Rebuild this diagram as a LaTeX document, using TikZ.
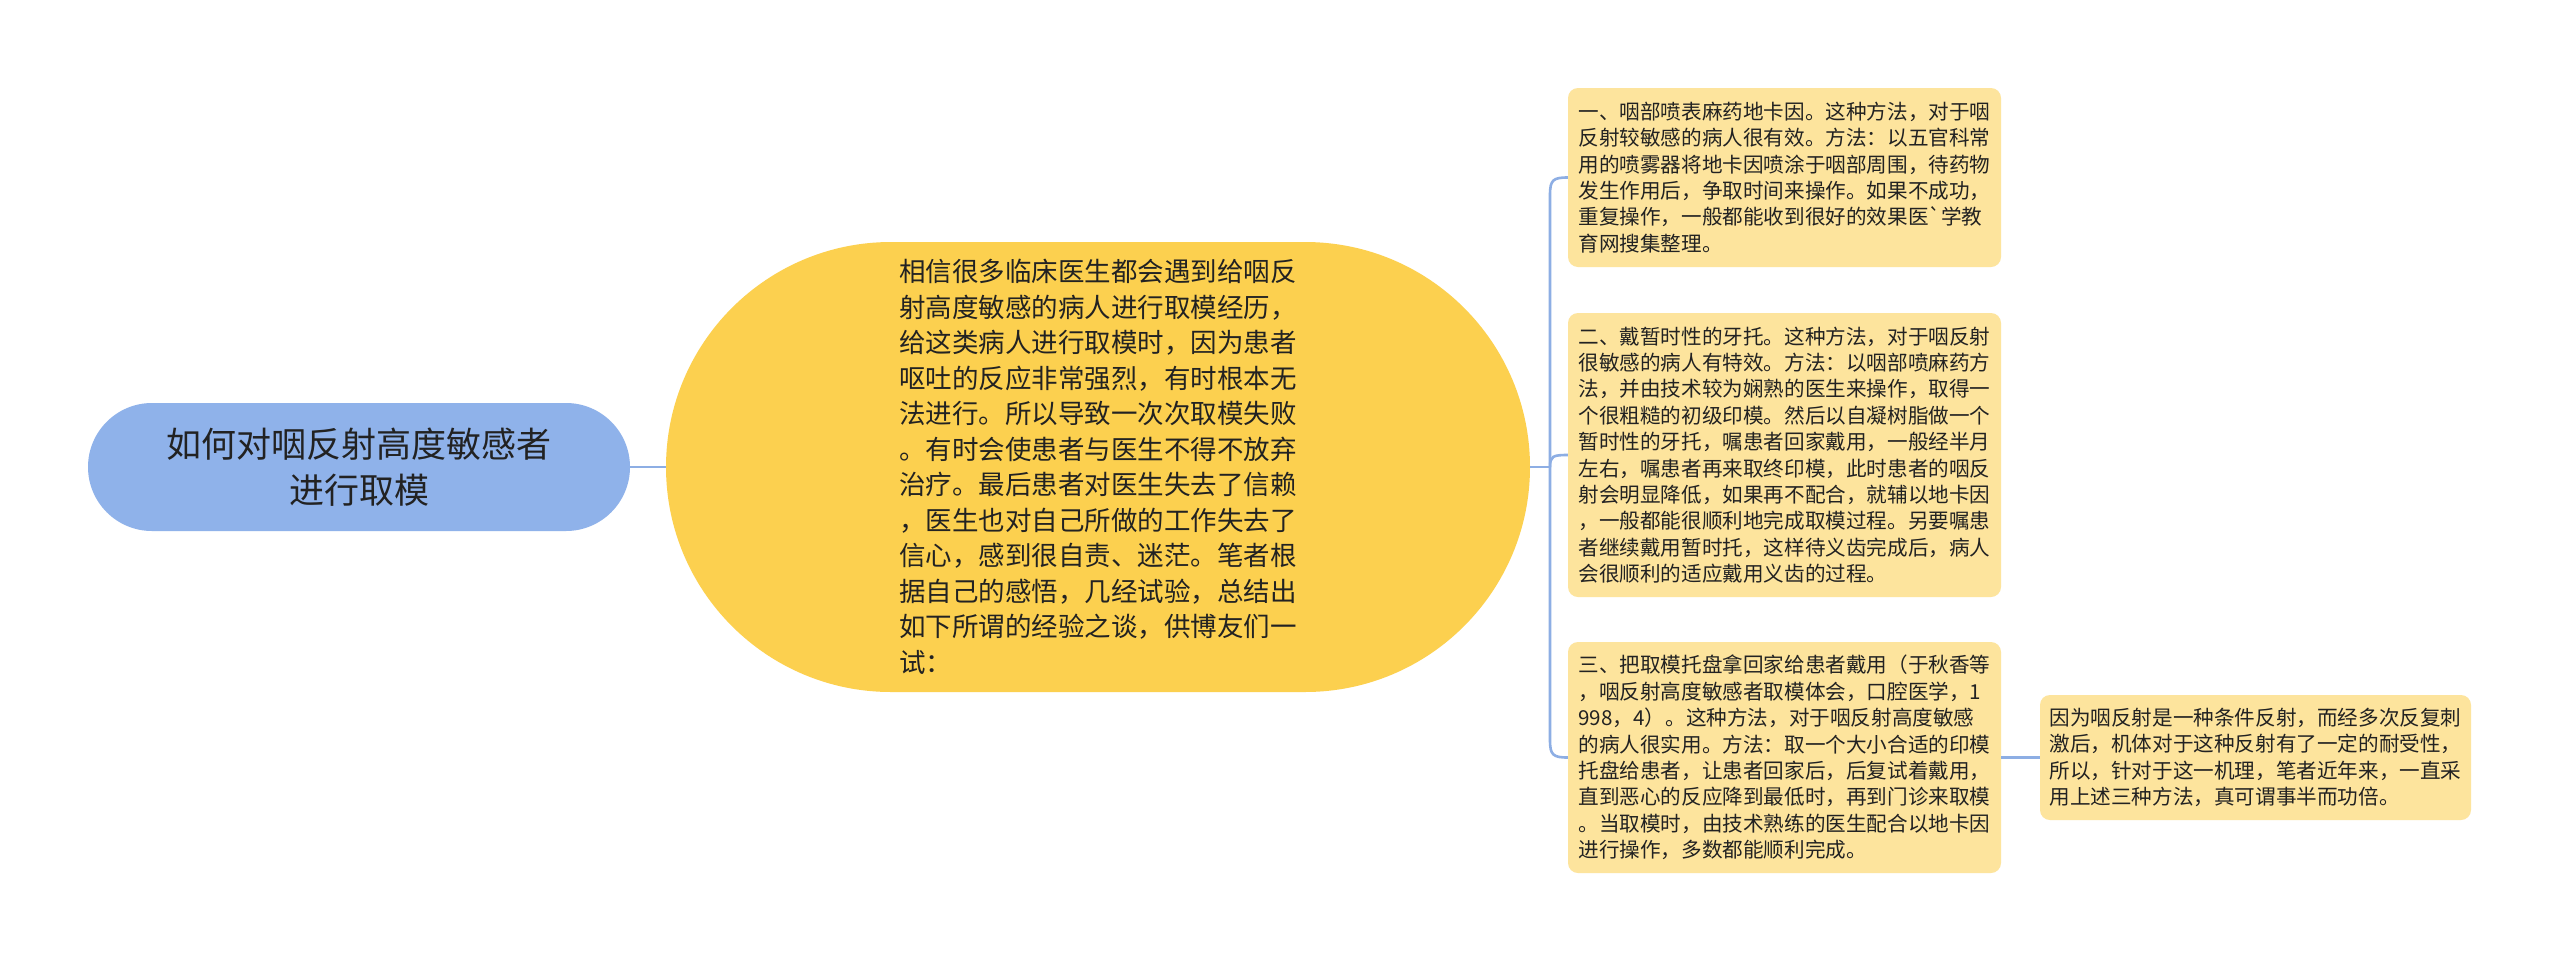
\documentclass[tikz,border=0pt]{standalone}
\usepackage{fontspec}
\setmainfont{Noto Sans CJK SC}
\newfontfamily\gravefont{Noto Sans CJK SC}
\definecolor{rootc}{HTML}{8FB2EA}
\definecolor{centc}{HTML}{FCD04F}
\definecolor{leafc}{HTML}{FDE49D}
\definecolor{linkc}{HTML}{8DAEE4}
\definecolor{txtc}{HTML}{222222}
\tikzset{
  rootbox/.style={fill=rootc, draw=none, rounded corners=64pt, minimum width=542pt, minimum height=128pt, inner sep=0pt, align=center, text=txtc, font=\fontsize{35}{46}\selectfont},
  centbox/.style={fill=centc, draw=none, rounded corners=225pt, minimum width=864pt, minimum height=450pt, inner sep=0pt, align=left, text=txtc, font=\fontsize{26.5}{35.5}\selectfont},
  leafbox/.style={fill=leafc, draw=none, rounded corners=10pt, inner sep=0pt, align=left, text=txtc, font=\fontsize{20.6}{26.4}\selectfont},
  link/.style={draw=linkc, line width=2.6pt}
}
\begin{document}
\begin{tikzpicture}[x=1pt,y=-1pt]
\useasboundingbox[fill=white] (0,0) rectangle (2560,962);

\node[rootbox] (root) at (359,467) {如何对咽反射高度敏感者\\进行取模};

\node[centbox] (c) at (1098,467) {相信很多临床医生都会遇到给咽反\\射高度敏感的病人进行取模经历，\\给这类病人进行取模时，因为患者\\呕吐的反应非常强烈，有时根本无\\法进行。所以导致一次次取模失败\\。有时会使患者与医生不得不放弃\\治疗。最后患者对医生失去了信赖\\，医生也对自己所做的工作失去了\\信心，感到很自责、迷茫。笔者根\\据自己的感悟，几经试验，总结出\\如下所谓的经验之谈，供博友们一\\试：};

\node[leafbox, minimum width=433pt, minimum height=179pt] (b1) at (1784.5,177.5) {一、咽部喷表麻药地卡因。这种方法，对于咽\\反射较敏感的病人很有效。方法：以五官科常\\用的喷雾器将地卡因喷涂于咽部周围，待药物\\发生作用后，争取时间来操作。如果不成功，\\重复操作，一般都能收到很好的效果医{\gravefont\symbol{"60}}学教\\育网搜集整理。};

\node[leafbox, minimum width=433pt, minimum height=284pt] (b2) at (1784.5,455) {二、戴暂时性的牙托。这种方法，对于咽反射\\很敏感的病人有特效。方法：以咽部喷麻药方\\法，并由技术较为娴熟的医生来操作，取得一\\个很粗糙的初级印模。然后以自凝树脂做一个\\暂时性的牙托，嘱患者回家戴用，一般经半月\\左右，嘱患者再来取终印模，此时患者的咽反\\射会明显降低，如果再不配合，就辅以地卡因\\，一般都能很顺利地完成取模过程。另要嘱患\\者继续戴用暂时托，这样待义齿完成后，病人\\会很顺利的适应戴用义齿的过程。};

\node[leafbox, minimum width=433pt, minimum height=231pt] (b3) at (1784.5,757.5) {三、把取模托盘拿回家给患者戴用（于秋香等\\，咽反射高度敏感者取模体会，口腔医学，1\\998，4）。这种方法，对于咽反射高度敏感\\的病人很实用。方法：取一个大小合适的印模\\托盘给患者，让患者回家后，后复试着戴用，\\直到恶心的反应降到最低时，再到门诊来取模\\。当取模时，由技术熟练的医生配合以地卡因\\进行操作，多数都能顺利完成。};

\node[leafbox, minimum width=431pt, minimum height=125pt] (b4) at (2255.5,757.5) {因为咽反射是一种条件反射，而经多次反复刺\\激后，机体对于这种反射有了一定的耐受性，\\所以，针对于这一机理，笔者近年来，一直采\\用上述三种方法，真可谓事半而功倍。};

\coordinate (j) at (1550,467);
\draw[link] (root.east) -- (c.west);
\draw[link] (c.east) -- (j);
\draw[link] (j) -- (1550,195) .. controls (1550,180) and (1553,177.5) .. (b1.west);
\draw[link] (j) .. controls (1550,456) and (1553,455) .. (b2.west);
\draw[link] (j) -- (1550,740) .. controls (1550,755) and (1553,757.5) .. (b3.west);
\draw[link] (b3.east) -- (b4.west);
\end{tikzpicture}
\end{document}
